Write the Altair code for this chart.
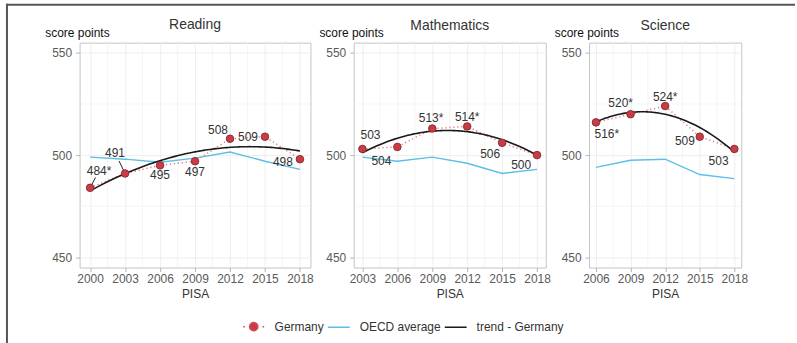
import altair as alt
import pandas as pd

# PISA mean scores: Germany vs. OECD average
reading_years = [2000, 2003, 2006, 2009, 2012, 2015, 2018]
reading_germany = [484, 491, 495, 497, 508, 509, 498]
reading_oecd = [499, 498, 496.5, 498.5, 501.5, 497, 493]
reading_labels = ["484*", "491", "495", "497", "508", "509", "498"]

math_years = [2003, 2006, 2009, 2012, 2015, 2018]
math_germany = [503, 504, 513, 514, 506, 500]
math_oecd = [499, 497, 499, 496, 491, 493]
math_labels = ["503", "504", "513*", "514*", "506", "500"]

science_years = [2006, 2009, 2012, 2015, 2018]
science_germany = [516, 520, 524, 509, 503]
science_oecd = [494, 497.5, 498, 490.5, 488.5]
science_labels = ["516*", "520*", "524*", "509", "503"]

series_names = ["Germany", "OECD average", "trend - Germany"]

# label placement relative to each point (years, score points)
reading_nudge = [(0.77, 8.3), (-0.86, 10.2), (0, -4.9), (0, -5.4), (-1.03, 4.4), (-1.46, 0), (-1.46, -1.5)]
reading_leader = [True, True, False, False, False, False, False]
math_nudge = [(0.69, 6.8), (-1.37, -6.8), (-0.1, 4.9), (0, 4.4), (-1.03, -5.4), (-1.37, -4.9)]
science_nudge = [(0.94, -5.9), (-0.86, 5.4), (0, 4.4), (-1.29, -2.0), (-1.37, -5.9)]

FONT = "Liberation Sans"
RED_FILL = "#cc3b45"
RED_EDGE = "#7e2a2e"
RED_DOTS = "#e8767a"
RED_KEY = "#d0505a"
BLUE = "#5bbfe6"
BLACK = "#1a1a1a"

# legend key for Germany: dot with a dotted line on both sides
GERMANY_SYMBOL = (
    "M-0.95,0L-0.8,0M0.8,0L0.95,0"
    "M-0.38,0A0.38,0.38 0 1,1 0.38,0A0.38,0.38 0 1,1 -0.38,0Z"
)

color_scale = alt.Scale(domain=series_names, range=[RED_KEY, BLUE, BLACK])
shape_scale = alt.Scale(domain=series_names, range=[GERMANY_SYMBOL, "stroke", "stroke"])

legend = alt.Legend(
    title=None,
    orient="none",
    direction="horizontal",
    legendX=163,
    legendY=273,
    symbolSize=484,
    symbolStrokeWidth=1.5,
    symbolOpacity=1,
    labelFontSize=12,
    labelColor="#333333",
    labelFont=FONT,
    labelOffset=9,
    columnPadding=0.5,
)


def panel(title, years, germany, oecd, labels, nudges, leaders, width, title_dy, extras=False):
    df = pd.DataFrame({
        "year": years,
        "score": germany,
        "oecd": oecd,
        "label": labels,
        "nx": [n[0] for n in nudges],
        "ny": [n[1] for n in nudges],
        "leader": leaders,
    })
    pad = (years[-1] - years[0]) * 0.05
    x_scale = alt.Scale(domain=[years[0] - pad, years[-1] + pad], nice=False, zero=False)
    y_scale = alt.Scale(domain=[445, 555], nice=False, zero=False)
    x_axis = alt.Axis(values=years, format="d", title="PISA", labelFlush=False, titlePadding=4)
    y_axis = alt.Axis(
        values=[450, 500, 550], title="score points", titleAngle=0,
        titleX=-35, titleY=-6, titleAlign="left", titleBaseline="alphabetic",
        titleColor="#111111", labelPadding=4,
    )

    def X(field):
        return alt.X(field, type="quantitative", scale=x_scale, axis=x_axis)

    def Y(field):
        return alt.Y(field, type="quantitative", scale=y_scale, axis=y_axis)

    base = alt.Chart(df)

    # faint minor grid between the labelled ticks
    minor_x = pd.DataFrame({"m": [(a + b) / 2 for a, b in zip(years[:-1], years[1:])]})
    minor_y = pd.DataFrame({"m": [475, 525]})
    grid_x = alt.Chart(minor_x).mark_rule(color="#f1f1f1", strokeWidth=0.7).encode(x=X("m"))
    grid_y = alt.Chart(minor_y).mark_rule(color="#f1f1f1", strokeWidth=0.7).encode(y=Y("m"))

    oecd_line = base.mark_line(color=BLUE, strokeWidth=1.4).encode(x=X("year"), y=Y("oecd"))
    dotted = base.mark_line(color=RED_DOTS, strokeWidth=1.5, strokeDash=[1.2, 2.8]).encode(
        x=X("year"), y=Y("score"))
    trend = base.transform_regression(
        "year", "score", method="poly", order=2
    ).mark_line(color=BLACK, strokeWidth=1.6).encode(x=X("year"), y=Y("score"))
    leader_lines = base.transform_filter("datum.leader").transform_calculate(
        x2="datum.year + 0.6 * datum.nx", y2="datum.score + 0.6 * datum.ny"
    ).mark_rule(color="#222222", strokeWidth=1).encode(
        x=X("year"), y=Y("score"), x2="x2:Q", y2="y2:Q")
    points = base.mark_point(
        filled=True, fill=RED_FILL, stroke=RED_EDGE, size=58, strokeWidth=0.9, opacity=1
    ).encode(x=X("year"), y=Y("score"))
    text = base.transform_calculate(
        lx="datum.year + datum.nx", ly="datum.score + datum.ny"
    ).mark_text(fontSize=12, color="#333333", font=FONT, baseline="middle").encode(
        x=X("lx"), y=Y("ly"), text="label:N")

    layers = [grid_x, grid_y, oecd_line, dotted, trend, leader_lines, points, text]

    if extras:
        # legend carrier: keys only, the marks themselves stay transparent
        keys = alt.Chart(pd.DataFrame({"series": series_names})).mark_point(
            filled=False, fill=RED_FILL, strokeWidth=1.5
        ).encode(
            color=alt.Color("series:N", scale=color_scale, legend=legend),
            shape=alt.Shape("series:N", scale=shape_scale, legend=legend),
            opacity=alt.value(0),
        )
        # outer frame
        one = pd.DataFrame({"k": [0]})
        left_edge = alt.Chart(one).mark_rule(color="#555555", strokeWidth=2).encode(
            x=alt.value(-73), y=alt.value(-39), y2=alt.value(303))
        top_edge = alt.Chart(one).mark_rule(color="#555555", strokeWidth=2).encode(
            y=alt.value(-38), x=alt.value(-74), x2=alt.value(719))
        layers += [keys, left_edge, top_edge]

    return alt.layer(*layers).properties(
        width=width, height=226,
        title=alt.Title(title, fontSize=14, fontWeight="normal", color="#333333",
                        font=FONT, anchor="middle", offset=4, dy=title_dy),
    )


reading = panel("Reading", reading_years, reading_germany, reading_oecd, reading_labels,
                reading_nudge, reading_leader, 232, 33, extras=True)
math = panel("Mathematics", math_years, math_germany, math_oecd, math_labels,
             math_nudge, [False] * len(math_years), 193, 10)
science = panel("Science", science_years, science_germany, science_oecd, science_labels,
                science_nudge, [False] * len(science_years), 153, 10)

chart = alt.hconcat(reading, math, science, spacing=43.5).properties(
    bounds="flush",
    padding={"left": 4, "top": 1, "right": 0, "bottom": 0},
).resolve_scale(
    x="independent", y="independent", color="shared", shape="shared"
).configure(
    font=FONT,
    background="white",
).configure_view(
    stroke="#c4c4c4", strokeWidth=1,
).configure_axis(
    domain=False,
    grid=True,
    gridColor="#e9e9e9",
    gridWidth=0.8,
    tickColor="#b3b3b3",
    tickSize=4,
    labelFontSize=12,
    labelColor="#5a5a5a",
    labelFont=FONT,
    labelPadding=2,
    titleFontSize=12,
    titleFontWeight="normal",
    titleColor="#333333",
    titleFont=FONT,
)

chart.save("out.html", embed_options={"renderer": "svg", "actions": False})
